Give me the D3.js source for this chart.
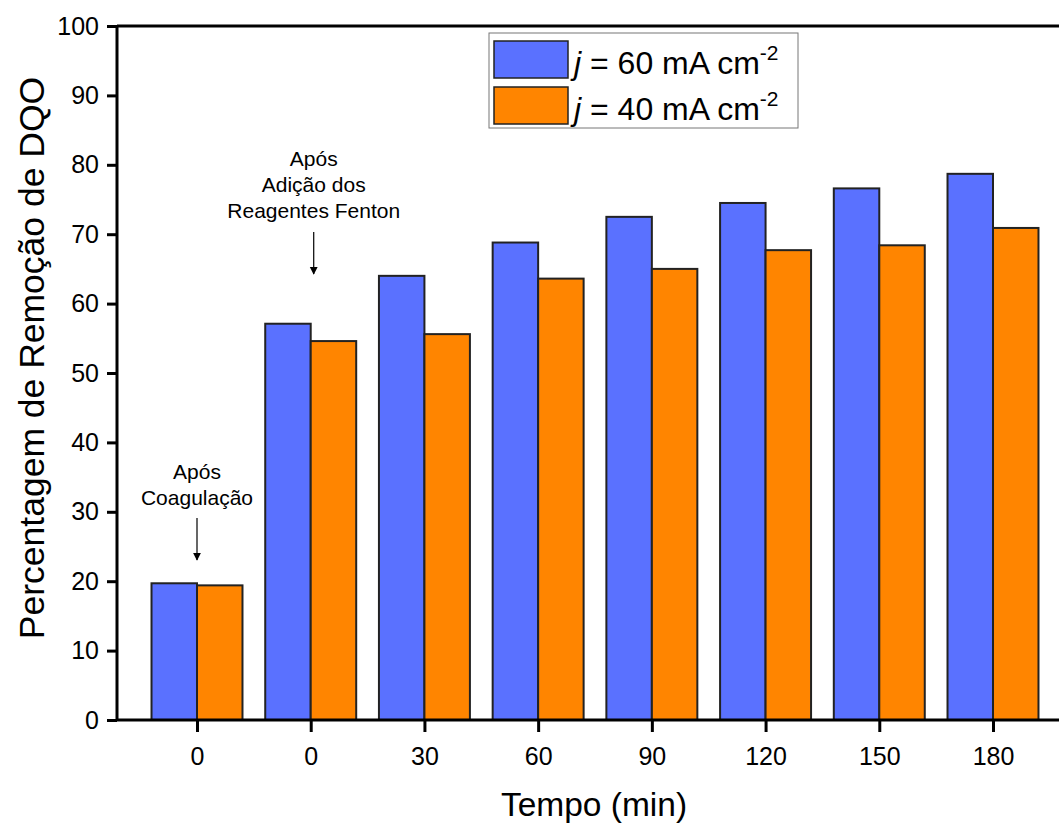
<!DOCTYPE html>
<html>
<head>
<meta charset="utf-8">
<script src="https://cdn.jsdelivr.net/npm/d3@7"></script>
<style>
  body { margin: 0; background: #fff; }
  svg { display: block; font-family: "Liberation Sans", Arial, sans-serif; }
</style>
</head>
<body>
<div id="chart"></div>
<script>
// data
var categories = ["0", "0", "30", "60", "90", "120", "150", "180"];
var series60 = [19.7, 57.1, 64.0, 68.8, 72.5, 74.5, 76.6, 78.7];
var series40 = [19.4, 54.6, 55.6, 63.6, 65.0, 67.7, 68.4, 70.9];
var yTicks = [0, 10, 20, 30, 40, 50, 60, 70, 80, 90, 100];
var seriesNames = ["60", "40"];
var seriesColors = ["#5a71ff", "#ff8500"];

var width = 1059, height = 823,
margin = {left: 117, top: 26, bottom: 103};

var svg = d3.select("#chart").append("svg")
.attr("width", width)
.attr("height", height);

// category index -> group centre
var x = d3.scaleLinear()
.domain([0, 7])
.range([197, 993]);

var y = d3.scaleLinear()
.domain([0, 100])
.range([height - margin.bottom, margin.top]);

var step = x(1) - x(0), barW = step * 0.4;

// bars
var g = svg.append("g").attr("class", "bars");
[series60, series40].forEach(function(vals, s){
  g.selectAll(".bar" + s)
  .data(vals)
  .enter()
  .append("rect")
  .attr("x", function(d, i){ return x(i) - barW + s * barW; })
  .attr("y", function(d){ return y(d); })
  .attr("width", barW)
  .attr("height", function(d){ return y(0) - y(d); })
  .attr("fill", seriesColors[s])
  .attr("stroke", "#222")
  .attr("stroke-width", 2);
});

// frame
svg.append("line")
.attr("x1", margin.left).attr("x2", width + 5)
.attr("y1", y(100)).attr("y2", y(100))
.attr("stroke", "#000").attr("stroke-width", 3);

// axes
var yAxis = svg.append("g")
.attr("transform", "translate(" + margin.left + ",0)")
.call(d3.axisLeft(y).tickValues(yTicks).tickSize(10).tickPadding(8));

var xAxis = svg.append("g")
.attr("transform", "translate(0," + y(0) + ")")
.call(d3.axisBottom(x).tickValues(d3.range(categories.length))
  .tickFormat(function(i){ return categories[i]; })
  .tickSize(12).tickPadding(15));

[yAxis, xAxis].forEach(function(a){
  a.select(".domain").attr("stroke-width", 3);
  a.selectAll(".tick line").attr("stroke-width", 3);
  a.selectAll(".tick text").attr("font-size", 25).attr("fill", "#000")
  .attr("font-family", "Liberation Sans, Arial, sans-serif");
});
xAxis.select(".domain").attr("d", "M" + margin.left + ",0H" + (width + 5));
yAxis.select(".domain").attr("d", "M0," + y(0) + "V" + y(100));

// axis titles
svg.append("text")
.attr("x", 594).attr("y", 816)
.attr("text-anchor", "middle")
.attr("font-size", 33.5)
.text("Tempo (min)");

svg.append("text")
.attr("transform", "translate(44,358) rotate(-90)")
.attr("text-anchor", "middle")
.attr("font-size", 35.5)
.text("Percentagem de Remoção de DQO");

// legend
var legend = svg.append("g").attr("transform", "translate(489,33)");
legend.append("rect")
.attr("width", 309).attr("height", 95)
.attr("fill", "#fff").attr("stroke", "#777").attr("stroke-width", 1);

seriesNames.forEach(function(name, i){
  var row = legend.append("g").attr("transform", "translate(5," + (8 + i * 46) + ")");
  row.append("rect")
  .attr("width", 74).attr("height", 37)
  .attr("fill", seriesColors[i]).attr("stroke", "#222").attr("stroke-width", 1.5);
  var t = row.append("text").attr("x", 80).attr("y", 33).attr("font-size", 32);
  t.append("tspan").attr("font-style", "italic").text("j");
  t.append("tspan").text(" = " + name + " mA cm");
  t.append("tspan").attr("font-size", 21).attr("dy", -14).text("-2");
});

// annotations
var notes = [
  {i: 0, lines: ["Após", "Coagulação"], top: 479, a0: 518, a1: 560},
  {i: 1, lines: ["Após", "Adição dos", "Reagentes Fenton"], top: 166, a0: 232, a1: 274}
];
var defs = svg.append("defs");
defs.append("marker")
.attr("id", "arrow").attr("viewBox", "0 0 10 10")
.attr("refX", 9).attr("refY", 5)
.attr("markerWidth", 8).attr("markerHeight", 10)
.attr("markerUnits", "userSpaceOnUse")
.attr("orient", "auto")
.append("path").attr("d", "M0,0L10,5L0,10Z").attr("fill", "#000");

notes.forEach(function(n){
  var cx = x(n.i) + (n.i === 1 ? 3 : 0);
  var t = svg.append("text").attr("text-anchor", "middle").attr("font-size", 21);
  n.lines.forEach(function(l, k){
    t.append("tspan").attr("x", cx).attr("y", n.top + k * 26).text(l);
  });
  svg.append("line")
  .attr("x1", cx).attr("x2", cx)
  .attr("y1", n.a0).attr("y2", n.a1)
  .attr("stroke", "#000").attr("stroke-width", 1.2)
  .attr("marker-end", "url(#arrow)");
});
</script>
</body>
</html>
